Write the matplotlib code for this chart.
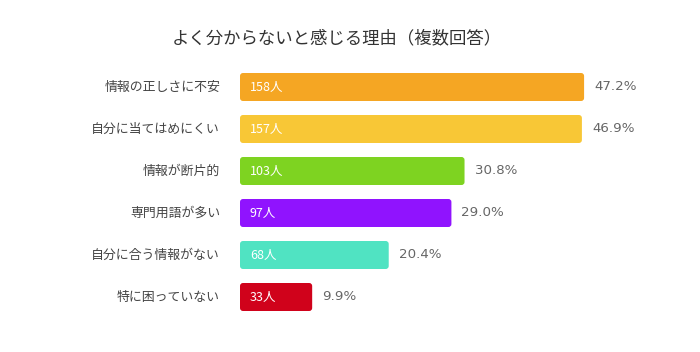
import matplotlib.pyplot as plt
from matplotlib.patches import FancyBboxPatch

plt.rcParams['font.family'] = ['Noto Sans CJK JP', 'DejaVu Sans']

# data
reasons = ['情報の正しさに不安', '自分に当てはめにくい', '情報が断片的',
           '専門用語が多い', '自分に合う情報がない', '特に困っていない']
counts = [158, 157, 103, 97, 68, 33]
percents = [47.2, 46.9, 30.8, 29.0, 20.4, 9.9]
colors = ['#F5A623', '#F8C736', '#7ED321', '#9013FE', '#50E3C2', '#D0021B']

W, H = 700, 352
fig = plt.figure(figsize=(W / 100, H / 100), dpi=100)
# axes: bars start at x=240px, 7.29 px per percent, rows 42px apart
ax = fig.add_axes([240 / W, (H - 318) / H, 420 / W, 252 / H])
px_per_x = 7.29
ax.set_xlim(0, 420 / px_per_x)
ax.set_ylim(len(reasons) - 0.5, -0.5)
ax.axis('off')

bar_h = 28 / 42
bars = ax.barh(range(len(reasons)), percents, height=bar_h, color=colors)
r = 3 / px_per_x
for b, c in zip(bars, colors):
    b.set_visible(False)
    p = FancyBboxPatch((b.get_x(), b.get_y()), b.get_width(), b.get_height(),
                       boxstyle=f'round,pad=0,rounding_size={r}',
                       mutation_aspect=px_per_x / 42, fc=c, ec='none')
    ax.add_patch(p)

for i, (name, n, pct) in enumerate(zip(reasons, counts, percents)):
    ax.annotate(name, (0, i), xytext=(-20, 0), textcoords='offset pixels',
                ha='right', va='center', fontsize=9.3, color='#444444')
    ax.annotate(f'{n}人', (0, i), xytext=(10, 0), textcoords='offset pixels',
                ha='left', va='center', fontsize=9, color='white')
    ax.annotate(f'{pct:.1f}%', (pct, i), xytext=(10, 0), textcoords='offset pixels',
                ha='left', va='center', fontsize=9.6, color='#666666',
                family=['DejaVu Sans'])

fig.text(337 / W, 1 - 38 / H, 'よく分からないと感じる理由（複数回答）',
         ha='center', va='center', fontsize=12.5, color='#333333')

fig.savefig('out.png', dpi=100, facecolor='white')
